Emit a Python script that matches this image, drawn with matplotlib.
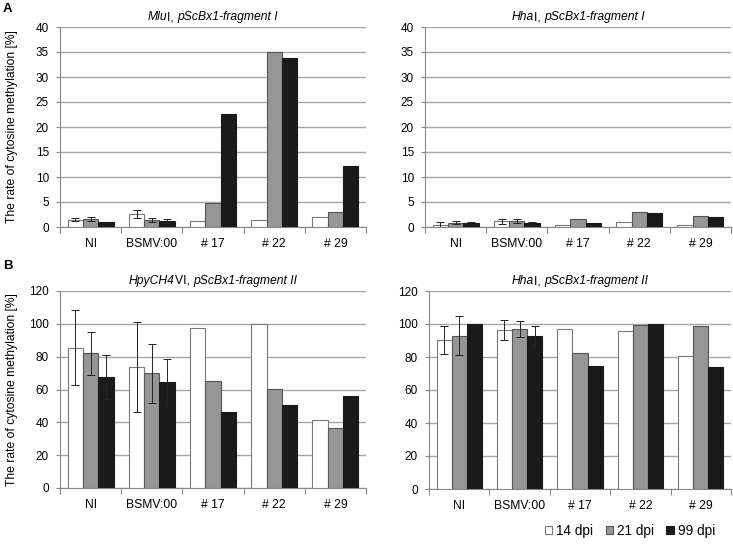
import matplotlib
matplotlib.use("Agg")
import matplotlib.pyplot as plt
import numpy as np
from matplotlib.patches import Rectangle

plt.rcParams['font.family'] = ['Liberation Sans', 'DejaVu Sans']

categories = ["NI", "BSMV:00", "# 17", "# 22", "# 29"]
series = ["14 dpi", "21 dpi", "99 dpi"]
colors = ["#ffffff", "#969696", "#1a1a1a"]
edges = ["#7a7a7a", "#555555", "#1a1a1a"]

# Panel A left: MluI, fragment I
a1_vals = [[1.5, 2.6, 1.3, 1.5, 2.0],
           [1.6, 1.4, 4.9, 35.0, 3.1],
           [1.0, 1.2, 22.7, 33.9, 12.2]]
a1_err = [[0.3, 0.8, 0, 0, 0],
          [0.4, 0.4, 0, 0, 0],
          [0.1, 0.4, 0, 0, 0]]
# Panel A right: HhaI, fragment I
a2_vals = [[0.5, 1.2, 0.5, 1.1, 0.5],
           [0.9, 1.2, 1.6, 3.0, 2.3],
           [0.9, 0.8, 0.8, 2.8, 2.1]]
a2_err = [[0.6, 0.5, 0, 0, 0],
          [0.3, 0.4, 0, 0, 0],
          [0.2, 0.3, 0, 0, 0]]
# Panel B left: HpyCH4VI, fragment II
b1_vals = [[85.5, 73.5, 97.5, 100.0, 41.4],
           [82.0, 69.8, 65.2, 60.3, 36.5],
           [67.5, 64.8, 46.2, 50.3, 56.0]]
b1_err = [[23.0, 27.5, 0, 0, 0],
          [13.0, 18.0, 0, 0, 0],
          [13.5, 14.0, 0, 0, 0]]
# Panel B right: HhaI, fragment II
b2_vals = [[90.2, 96.5, 96.7, 96.0, 80.8],
           [93.0, 97.0, 82.2, 99.3, 98.5],
           [100.0, 92.7, 74.8, 100.0, 74.2]]
b2_err = [[8.3, 6.0, 0, 0, 0],
          [12.0, 5.0, 0, 0, 0],
          [0.0, 6.0, 0, 0, 0]]

W, H = 733, 547
fig = plt.figure(figsize=(W / 100, H / 100), dpi=100)
renderer = fig.canvas.get_renderer()


def add_ax(l, r, t, b):
    return fig.add_axes([l / W, (H - b) / H, (r - l) / W, (b - t) / H])


def rich_title(ax, pieces, size=8.75, offset_px=10):
    # pieces: list of (text, italic?) ; centered above axes
    bb = ax.get_position()
    xc = (bb.x0 + bb.x1) / 2 * W
    yc = bb.y1 * H + offset_px
    objs = []
    widths = []
    for txt, it in pieces:
        t = fig.text(0, yc / H, txt, fontsize=size, style='italic' if it else 'normal',
                     ha='left', va='center')
        w = t.get_window_extent(renderer=renderer).width
        objs.append(t)
        widths.append(w)
    total = sum(widths)
    x = xc - total / 2
    for t, w in zip(objs, widths):
        t.set_x(x / W)
        x += w


def draw(ax, vals, errs, ymax, ystep):
    x = np.arange(len(categories))
    bw = 0.25
    for i in range(3):
        xs = x + (i - 1) * bw
        ax.bar(xs, vals[i], width=bw, color=colors[i], edgecolor=edges[i],
               linewidth=0.8, zorder=3)
        e = np.array(errs[i])
        m = e > 0
        ax.errorbar(xs[m], np.array(vals[i])[m], yerr=e[m], fmt='none',
                    ecolor='#222222', elinewidth=0.7, capsize=3, capthick=0.7,
                    zorder=4)
    ax.set_xlim(-0.5, len(categories) - 0.5)
    ax.set_ylim(0, ymax)
    ax.set_yticks(np.arange(0, ymax + 0.1, ystep))
    ax.yaxis.grid(True, color='#a6a6a6', linewidth=1.0, zorder=0)
    ax.set_axisbelow(True)
    ax.set_xticks(x)
    ax.set_xticklabels(categories)
    ax.set_xticks(np.arange(-0.5, len(categories), 1.0), minor=True)
    ax.tick_params(axis='x', which='major', length=0, pad=8, labelsize=8.75)
    ax.tick_params(axis='x', which='minor', length=4, color='#888888', width=0.8)
    ax.tick_params(axis='y', length=3, color='#888888', width=0.8, labelsize=8.5,
                   pad=5)
    for s in ['top', 'right']:
        ax.spines[s].set_visible(False)
    for s in ['left', 'bottom']:
        ax.spines[s].set_color('#888888')
        ax.spines[s].set_linewidth(0.8)


axA1 = add_ax(60, 366, 27, 227)
axA2 = add_ax(425, 731, 27, 227)
axB1 = add_ax(60, 366, 291, 488)
axB2 = add_ax(429, 731, 291, 489)

draw(axA1, a1_vals, a1_err, 40, 5)
draw(axA2, a2_vals, a2_err, 40, 5)
draw(axB1, b1_vals, b1_err, 120, 20)
draw(axB2, b2_vals, b2_err, 120, 20)

rich_title(axA1, [("Mlu", True), ("I, ", False), ("pScBx1-fragment I", True)])
rich_title(axA2, [("Hha", True), ("I, ", False), ("pScBx1-fragment I", True)])
rich_title(axB1, [("HpyCH4", True), ("VI, ", False), ("pScBx1-fragment II", True)])
rich_title(axB2, [("Hha", True), ("I, ", False), ("pScBx1-fragment II", True)])

ylab = "The rate of cytosine methylation [%]"
fig.text(12 / W, 1 - 127 / H, ylab, rotation=90, ha='center', va='center', fontsize=8.75)
fig.text(12 / W, 1 - 390 / H, ylab, rotation=90, ha='center', va='center', fontsize=8.75)
fig.text(3 / W, 1 - 9 / H, "A", fontsize=9.5, fontweight='bold', ha='left', va='center')
fig.text(3 / W, 1 - 266 / H, "B", fontsize=9.5, fontweight='bold', ha='left', va='center')

handles = [Rectangle((0, 0), 1, 1, facecolor=colors[i], edgecolor=edges[i], linewidth=0.8)
           for i in range(3)]
fig.legend(handles, series, loc='center right', bbox_to_anchor=(722 / W, 1 - 531 / H),
           ncol=3, frameon=False, fontsize=9.8, handlelength=0.55, handleheight=0.55,
           handletextpad=0.3, columnspacing=0.9, borderpad=0)

fig.savefig("out.png", dpi=100)
